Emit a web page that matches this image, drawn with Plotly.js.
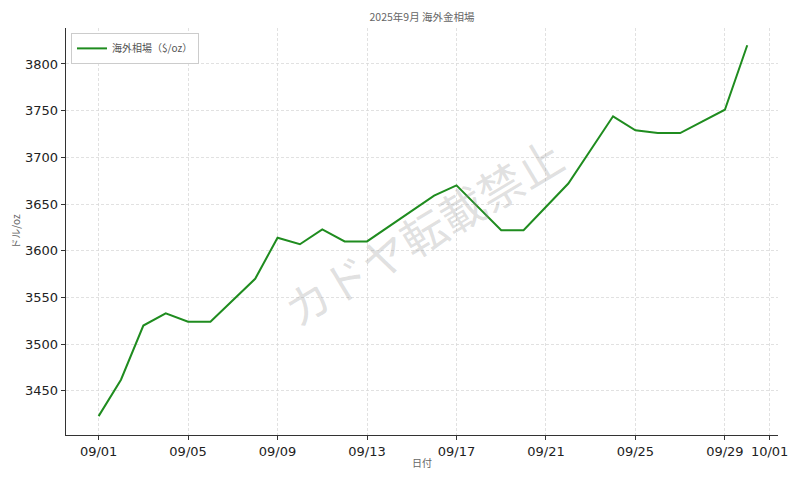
<!DOCTYPE html>
<html>
<head>
<meta charset="utf-8">
<script src="https://cdn.plot.ly/plotly-3.0.1.min.js"></script>
<style>html,body{margin:0;padding:0;background:#fff;}#chart{width:800px;height:480px;}</style>
</head>
<body>
<div id="chart"></div>
<script>
const dates = ["2025-09-01","2025-09-02","2025-09-03","2025-09-04","2025-09-05","2025-09-06",
  "2025-09-08","2025-09-09","2025-09-10","2025-09-11","2025-09-12","2025-09-13",
  "2025-09-16","2025-09-17","2025-09-19","2025-09-20","2025-09-22","2025-09-24",
  "2025-09-25","2025-09-26","2025-09-27","2025-09-29","2025-09-30"];
const prices = [3423,3462,3520,3533,3524,3524,
  3570,3614,3607,3623,3610,3610,
  3659,3670,3622,3622,3672,3744,
  3729,3726,3726,3751,3820];
const xTickVals = ["2025-09-01","2025-09-05","2025-09-09","2025-09-13","2025-09-17","2025-09-21","2025-09-25","2025-09-29","2025-10-01"];
const xTickText = ["09/01","09/05","09/09","09/13","09/17","09/21","09/25","09/29","10/01"];
const yTickVals = [3450,3500,3550,3600,3650,3700,3750,3800];
const seriesName = "海外相場（$/oz）";
const titleText = "2025年9月 海外金相場";
const xTitle = "日付";
const yTitle = "ドル/oz";
const watermark = "カドヤ転載禁止";

const jp = "Noto Sans CJK JP, DejaVu Sans, sans-serif";
const num = "DejaVu Sans, sans-serif";

const trace = {
  x: dates, y: prices, type: "scatter", mode: "lines", name: seriesName,
  line: {color: "#1f8c1f", width: 2}
};

const layout = {
  width: 800, height: 480,
  margin: {l: 66, r: 22, t: 28, b: 45},
  paper_bgcolor: "#fff", plot_bgcolor: "#fff",
  title: {text: titleText, x: 0.5275, xanchor: "center", y: 0.963, yanchor: "middle",
          font: {family: jp, size: 10.5, color: "#666"}},
  showlegend: true,
  legend: {x: 0.007, y: 0.988, xanchor: "left", yanchor: "top",
           bgcolor: "#fff", bordercolor: "#ccc", borderwidth: 1,
           font: {family: jp, size: 10, color: "#555"}},
  xaxis: {
    type: "date",
    range: ["2025-08-30 13:00", "2025-10-01 09:00"],
    tickvals: xTickVals, ticktext: xTickText,
    tickfont: {family: num, size: 13, color: "#222"},
    ticks: "outside", ticklen: 4, tickcolor: "#333", tickwidth: 1,
    showline: true, linecolor: "#333", linewidth: 1.3,
    showgrid: true, gridcolor: "#d9d9d9", gridwidth: 0.8, griddash: "3px,2px",
    zeroline: false,
    title: {text: xTitle, font: {family: jp, size: 10, color: "#666"}, standoff: 2}
  },
  yaxis: {
    range: [3402.8, 3838.5],
    tickvals: yTickVals,
    tickfont: {family: num, size: 13, color: "#222"},
    ticks: "outside", ticklen: 4, tickcolor: "#333", tickwidth: 1,
    showline: true, linecolor: "#333", linewidth: 1.3,
    showgrid: true, gridcolor: "#d9d9d9", gridwidth: 0.8, griddash: "3px,2px",
    zeroline: false,
    title: {text: yTitle, font: {family: jp, size: 10, color: "#666"}, standoff: 2}
  },
  annotations: [{
    text: watermark, xref: "paper", yref: "paper", x: 0.5, y: 0.5,
    xanchor: "center", yanchor: "middle", showarrow: false, textangle: -31,
    font: {family: jp, size: 45, color: "rgba(150,150,150,0.3)"}
  }]
};

Plotly.newPlot("chart", [trace], layout, {displayModeBar: false, staticPlot: true});
</script>
</body>
</html>
